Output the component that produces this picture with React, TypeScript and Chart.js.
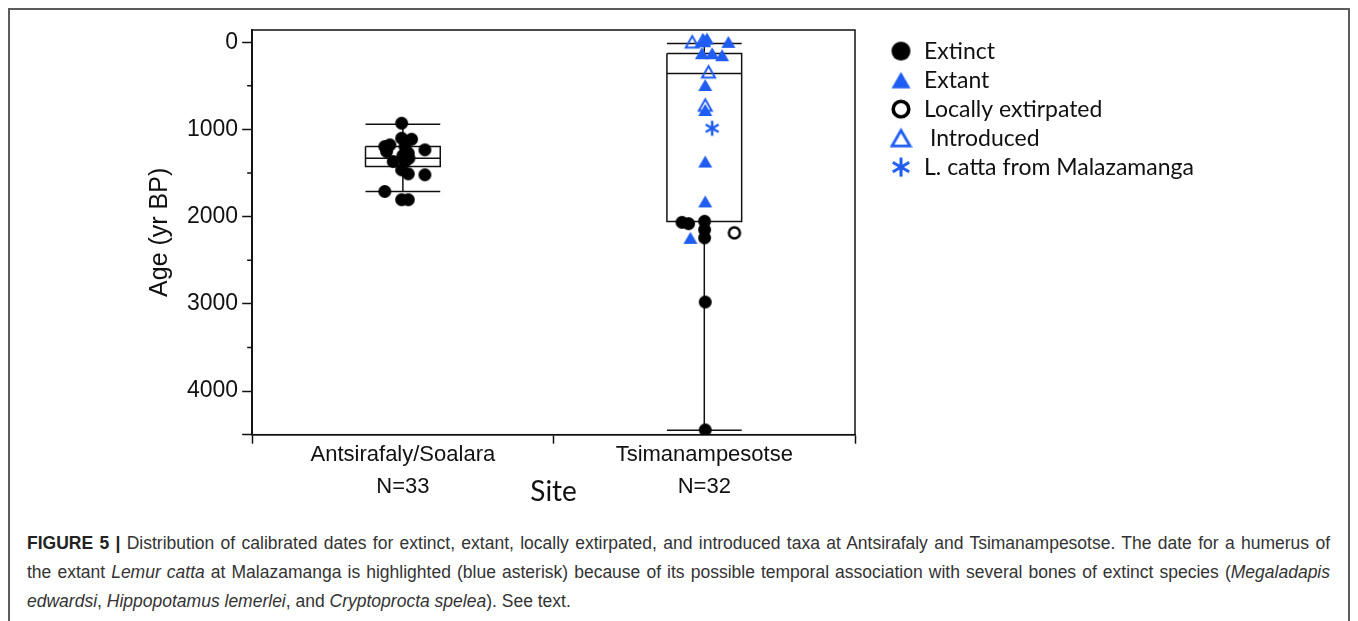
import React, { useEffect, useRef } from 'react';
import { Chart, registerables } from 'chart.js';

Chart.register(...registerables);

// ---------- data ----------
const SITES = ['Antsirafaly/Soalara', 'Tsimanampesotse'];
const SITE_N = ['N=33', 'N=32'];
const X_TICKS = [-0.5, 0, 0.5, 1, 1.5];
const Y_TICKS = [0, 1000, 2000, 3000, 4000, 4500];
const Y_MINOR_TICKS = [500, 1500, 2500, 3500];
const Y_MIN = -140;
const Y_MAX = 4500;

const LEGEND_LABELS = ['Extinct', 'Extant', 'Locally extirpated', ' Introduced', 'L. catta from Malazamanga'];

// box plot statistics per site (age, yr BP)
const BOX_WHISKER_YOUNG = [941, 15];
const BOX_Q1 = [1196, 130];
const BOX_MEDIAN = [1329, 358];
const BOX_Q3 = [1425, 2055];
const BOX_WHISKER_OLD = [1711, 4450];
const BOX_HALF_WIDTH = 0.124;

// individual dates: x = site index + jitter, y = age
const EXTINCT_X = [-0.004, -0.06, -0.043, -0.054, -0.004, 0.029, 0.007, 0.073, 0.018, 0.0, 0.02, -0.032, 0.007, -0.004, 0.018, 0.073, -0.06, -0.004, 0.018, 0.926, 0.948, 1.001, 1.001, 1.001, 1.003, 1.003];
const EXTINCT_AGE = [929, 1196, 1177, 1253, 1101, 1112, 1196, 1234, 1272, 1300, 1330, 1368, 1368, 1463, 1509, 1520, 1711, 1806, 1806, 2065, 2080, 2053, 2149, 2243, 2979, 4445];
const EXTANT_X = [0.998, 1.009, 1.08, 0.992, 1.026, 1.059, 1.003, 1.003, 1.003, 1.003, 0.954];
const EXTANT_AGE = [-23, -42, -4, 126, 126, 149, 491, 777, 1368, 1825, 2243];
const EXTIRPATED_X = [1.1];
const EXTIRPATED_AGE = [2186];
const INTRODUCED_X = [0.96, 0.995, 1.014, 1.003];
const INTRODUCED_AGE = [-4, -20, 340, 720];
const LCATTA_X = [1.026];
const LCATTA_AGE = [987];

// ---------- style ----------
const BLUE = '#1f5cf2';
const INK = '#111111';
const CANVAS_W = 1338;
const CANVAS_H = 500;
const LEG_FONT = 23;
const LEG_PAD = 6;

function makeCanvas(size: number, draw: (ctx: CanvasRenderingContext2D, c: number) => void) {
  const cv = document.createElement('canvas');
  cv.width = size;
  cv.height = size;
  const ctx = cv.getContext('2d') as CanvasRenderingContext2D;
  draw(ctx, size / 2);
  return cv;
}
function filledCircle(r: number, color: string) {
  return makeCanvas(Math.ceil(r * 2 + 2), (ctx, c) => {
    ctx.fillStyle = color;
    ctx.beginPath();
    ctx.arc(c, c, r, 0, Math.PI * 2);
    ctx.fill();
  });
}
function openCircle(r: number, lw: number, color: string) {
  return makeCanvas(Math.ceil(r * 2 + lw + 2), (ctx, c) => {
    ctx.strokeStyle = color;
    ctx.lineWidth = lw;
    ctx.beginPath();
    ctx.arc(c, c, r, 0, Math.PI * 2);
    ctx.stroke();
  });
}
function triangle(w: number, color: string, filled: boolean, lw: number) {
  const h = w * 0.866;
  return makeCanvas(Math.ceil(w + lw + 2), (ctx, c) => {
    ctx.beginPath();
    ctx.moveTo(c, c - h / 2);
    ctx.lineTo(c + w / 2, c + h / 2);
    ctx.lineTo(c - w / 2, c + h / 2);
    ctx.closePath();
    if (filled) {
      ctx.fillStyle = color;
      ctx.fill();
    } else {
      ctx.strokeStyle = color;
      ctx.lineWidth = lw;
      ctx.lineJoin = 'miter';
      ctx.stroke();
    }
  });
}
function asterisk(s: number, lw: number, color: string) {
  return makeCanvas(Math.ceil(s + lw + 2), (ctx, c) => {
    ctx.strokeStyle = color;
    ctx.lineWidth = lw;
    ctx.beginPath();
    [90, 30, 150].forEach((deg) => {
      const a = (deg * Math.PI) / 180;
      const dx = (Math.cos(a) * s) / 2;
      const dy = (Math.sin(a) * s) / 2;
      ctx.moveTo(c - dx, c - dy);
      ctx.lineTo(c + dx, c + dy);
    });
    ctx.stroke();
  });
}

function boxPath(i: number) {
  const l = i - BOX_HALF_WIDTH;
  const r = i + BOX_HALF_WIDTH;
  const gap = { x: i, y: null as any };
  return [
    { x: l, y: BOX_Q1[i] }, { x: r, y: BOX_Q1[i] }, { x: r, y: BOX_Q3[i] }, { x: l, y: BOX_Q3[i] }, { x: l, y: BOX_Q1[i] }, gap,
    { x: l, y: BOX_MEDIAN[i] }, { x: r, y: BOX_MEDIAN[i] }, gap,
    { x: i, y: BOX_WHISKER_YOUNG[i] }, { x: i, y: BOX_Q1[i] }, gap,
    { x: l, y: BOX_WHISKER_YOUNG[i] }, { x: r, y: BOX_WHISKER_YOUNG[i] }, gap,
    { x: i, y: BOX_Q3[i] }, { x: i, y: BOX_WHISKER_OLD[i] }, gap,
    { x: l, y: BOX_WHISKER_OLD[i] }, { x: r, y: BOX_WHISKER_OLD[i] },
  ];
}

const pts = (xs: number[], ys: number[]) => xs.map((x, i) => ({ x, y: ys[i] }));

const framePlugin = {
  id: 'plotFrame',
  beforeDatasetsDraw(chart: any) {
    const { ctx, chartArea: a, scales } = chart;
    ctx.save();
    ctx.strokeStyle = INK;
    ctx.lineWidth = 1.5;
    ctx.strokeRect(a.left, a.top, a.right - a.left, a.bottom - a.top);
    ctx.beginPath();
    Y_MINOR_TICKS.forEach((v) => {
      const y = scales.y.getPixelForValue(v);
      ctx.moveTo(a.left - 5, y);
      ctx.lineTo(a.left, y);
    });
    ctx.stroke();
    ctx.restore();
  },
};

export default function App() {
  const ref = useRef<HTMLCanvasElement>(null);

  useEffect(() => {
    if (!ref.current) return;
    const plotMarkers = [
      filledCircle(6.5, '#000'),
      triangle(14, BLUE, true, 0),
      openCircle(5.5, 2.5, '#000'),
      triangle(13, BLUE, false, 2),
      asterisk(15, 2.5, BLUE),
    ];
    const legendMarkers = [
      filledCircle(9.5, '#000'),
      triangle(19, BLUE, true, 0),
      openCircle(7.8, 3.6, '#000'),
      triangle(18, BLUE, false, 2.8),
      asterisk(19, 3, BLUE),
    ];

    const mctx = document.createElement('canvas').getContext('2d') as CanvasRenderingContext2D;
    mctx.font = `normal ${LEG_FONT}px Lato`;
    const maxW = Math.max(...LEGEND_LABELS.map((t) => mctx.measureText(t).width));
    const legendW = LEG_PAD + LEG_FONT + LEG_FONT / 2 + maxW + 10;
    const plotRight = 845;
    const gapRight = 28.5;
    const padRight = CANVAS_W - (plotRight + gapRight) - legendW;

    const pointSets = [
      pts(EXTINCT_X, EXTINCT_AGE),
      pts(EXTANT_X, EXTANT_AGE),
      pts(EXTIRPATED_X, EXTIRPATED_AGE),
      pts(INTRODUCED_X, INTRODUCED_AGE),
      pts(LCATTA_X, LCATTA_AGE),
    ];

    const datasets: any[] = pointSets.map((data, i) => ({
      label: LEGEND_LABELS[i],
      data,
      pointStyle: plotMarkers[i],
      pointRadius: 6,
      showLine: false,
    }));
    SITES.forEach((_, i) => {
      datasets.push({
        label: 'box-' + i,
        data: boxPath(i),
        showLine: true,
        spanGaps: false,
        borderColor: INK,
        borderWidth: 1.5,
        borderJoinStyle: 'miter',
        pointRadius: 0,
        fill: false,
      });
    });

    const chart = new Chart(ref.current, {
      type: 'scatter',
      data: { datasets },
      plugins: [framePlugin],
      options: {
        animation: false,
        responsive: false,
        devicePixelRatio: 1,
        events: [],
        layout: { padding: { left: 135, top: 20, right: padRight, bottom: 1.5 } },
        plugins: {
          tooltip: { enabled: false },
          legend: {
            position: 'right',
            align: 'start',
            maxWidth: 800,
            title: { display: true, text: '', font: { size: 3, lineHeight: 1.2 }, padding: 0 },
            labels: {
              usePointStyle: true,
              boxWidth: LEG_FONT,
              boxHeight: LEG_FONT,
              padding: LEG_PAD,
              color: INK,
              font: { family: 'Lato', size: LEG_FONT },
              generateLabels: () =>
                LEGEND_LABELS.map((text, i) => ({
                  text,
                  pointStyle: legendMarkers[i],
                  datasetIndex: i,
                  fillStyle: 'rgba(0,0,0,0)',
                  strokeStyle: 'rgba(0,0,0,0)',
                  lineWidth: 0,
                  hidden: false,
                  fontColor: INK,
                })),
            },
          },
        },
        scales: {
          x: {
            type: 'linear',
            min: -0.5,
            max: 1.5,
            afterBuildTicks: (s: any) => {
              s.ticks = X_TICKS.map((v) => ({ value: v }));
            },
            ticks: {
              autoSkip: false,
              maxRotation: 0,
              minRotation: 0,
              padding: 3,
              color: INK,
              font: { family: 'Liberation Sans', size: 22, lineHeight: '16px' },
              callback: (v: any) => (Number.isInteger(v) ? [SITES[v], '', SITE_N[v]] : ''),
            },
            grid: {
              drawOnChartArea: false,
              tickLength: 9,
              tickWidth: 1.5,
              tickColor: (c: any) => (c.tick && Number.isInteger(c.tick.value) ? 'rgba(0,0,0,0)' : INK),
            },
            border: { color: INK, width: 1.5 },
            title: {
              display: true,
              text: 'Site',
              color: INK,
              font: { family: 'Lato', size: 28, lineHeight: 1.2 },
              padding: { top: -22.8, bottom: 0 },
            },
          },
          y: {
            type: 'linear',
            reverse: true,
            min: Y_MIN,
            max: Y_MAX,
            afterBuildTicks: (s: any) => {
              s.ticks = Y_TICKS.map((v) => ({ value: v }));
            },
            ticks: {
              padding: 4,
              color: INK,
              font: { family: 'Liberation Sans', size: 23 },
              callback: (v: any) => (v % 1000 === 0 ? String(v) : ''),
            },
            grid: { drawOnChartArea: false, tickLength: 10, tickWidth: 1.5, tickColor: INK },
            border: { color: INK, width: 1.5 },
            title: {
              display: true,
              text: 'Age (yr BP)',
              color: INK,
              font: { family: 'Liberation Sans', size: 25, lineHeight: 1.2 },
              padding: { top: 0, bottom: 8 },
            },
          },
          y2: {
            type: 'linear',
            position: 'right',
            reverse: true,
            min: Y_MIN,
            max: Y_MAX,
            ticks: { display: false },
            grid: { display: false, drawTicks: false },
            border: { display: false },
            afterFit: (s: any) => {
              s.width = gapRight;
            },
          },
        },
      } as any,
    });
    return () => chart.destroy();
  }, []);

  const line: React.CSSProperties = { width: 1303, textAlign: 'justify', textAlignLast: 'justify' as any };
  return (
    <div style={{ border: '2px solid #5c5c5c', width: 1338, background: '#fff' }}>
      <canvas ref={ref} width={CANVAS_W} height={CANVAS_H} style={{ display: 'block', width: CANVAS_W, height: CANVAS_H }} />
      <div
        style={{
          padding: '18.5px 0 40px 17px',
          fontFamily: '"Liberation Sans", Arial, sans-serif',
          fontSize: 17.5,
          lineHeight: '29px',
          color: '#333',
        }}
      >
        <div style={line}>
          <b style={{ color: '#222' }}>FIGURE 5 |</b> Distribution of calibrated dates for extinct, extant, locally extirpated, and introduced taxa at Antsirafaly and Tsimanampesotse. The date for a humerus of
        </div>
        <div style={line}>
          the extant <i>Lemur catta</i> at Malazamanga is highlighted (blue asterisk) because of its possible temporal association with several bones of extinct species (<i>Megaladapis</i>
        </div>
        <div>
          <i>edwardsi</i>, <i>Hippopotamus lemerlei</i>, and <i>Cryptoprocta spelea</i>). See text.
        </div>
      </div>
    </div>
  );
}
